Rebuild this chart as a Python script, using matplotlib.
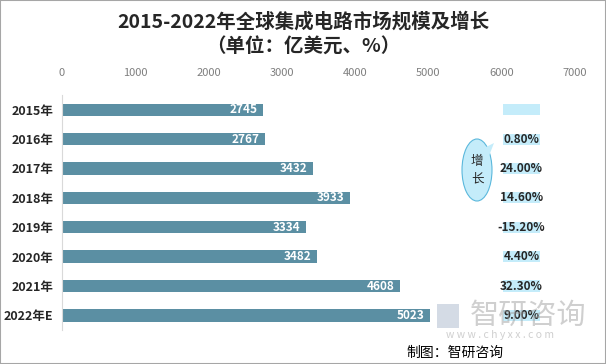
import matplotlib.pyplot as plt
from matplotlib.patches import Ellipse, Polygon, Rectangle

plt.rcParams['font.family'] = ['Noto Sans CJK SC', 'DejaVu Sans']

years = ['2015年', '2016年', '2017年', '2018年', '2019年', '2020年', '2021年', '2022年E']
scale = [2745, 2767, 3432, 3933, 3334, 3482, 4608, 5023]
growth = ['', '0.80%', '24.00%', '14.60%', '-15.20%', '4.40%', '32.30%', '9.00%']

fig = plt.figure(figsize=(6.06, 3.64), dpi=100)
ax = fig.add_axes([0.102, 0.093, 0.847, 0.646])

y = list(range(len(years)))
ax.barh(y, scale, height=0.42, color='#5b8fa3')
ax.barh(y, [500] * len(years), left=6020, height=0.38, color='#c4ecfa')

for i, v in enumerate(scale):
    ax.annotate(str(v), (v, i), xytext=(-4, 0), textcoords='offset points',
                ha='right', va='center', color='white', fontsize=8.5, fontweight='bold')
for i, g in enumerate(growth):
    ax.text(6270, i, g, ha='center', va='center', color='#262626', fontsize=8.5,
            fontweight='bold', zorder=9)

ax.set_xlim(0, 7000)
ax.set_ylim(7.5, -0.5)
ax.set_xticks(range(0, 7001, 1000))
ax.xaxis.tick_top()
ax.tick_params(axis='x', length=0, pad=12, labelsize=8, labelcolor='#7f7f7f')
ax.tick_params(axis='y', length=0, pad=6, labelsize=9)
ax.set_yticks(y)
ax.set_yticklabels(years, fontweight='bold', color='#262626')
for s in ['top', 'right', 'bottom']:
    ax.spines[s].set_visible(False)
ax.spines['left'].set_color('#d9d9d9')

fig.text(0.5, 1 - 22 / 364, '2015-2022年全球集成电路市场规模及增长', ha='center', va='center',
         fontsize=14, fontweight='bold', color='#262626')
fig.text(0.5, 1 - 47 / 364, '（单位：亿美元、%）', ha='center', va='center',
         fontsize=14, fontweight='bold', color='#262626')

# speech bubble
bubble = Ellipse((477 / 606, 1 - 170 / 364), 30 / 606, 62 / 364, transform=fig.transFigure,
                 facecolor='#c4ecfa', edgecolor='#5bb8dc', lw=0.8, zorder=5)
fig.patches.append(bubble)
tail = Polygon([(484 / 606, 1 - 148 / 364), (494 / 606, 1 - 143 / 364), (489 / 606, 1 - 156 / 364)],
               closed=True, transform=fig.transFigure, facecolor='#c4ecfa', edgecolor='none', zorder=6)
fig.patches.append(tail)
fig.text(477 / 606, 1 - 170 / 364, '增\n长', ha='center', va='center', fontsize=9,
         color='#262626', linespacing=1.4, zorder=7)

# watermark and source
fig.text(528 / 606, 1 - 316 / 364, '智研咨询', ha='center', va='center', fontsize=21,
         color='#a0a0a0', alpha=0.5, zorder=8)
fig.patches.append(Rectangle((437 / 606, 1 - 328 / 364), 22 / 606, 24 / 364,
                             transform=fig.transFigure, facecolor='#b8c4d4', alpha=0.6,
                             edgecolor='none'))
fig.text(500 / 606, 1 - 335 / 364, 'w w w . c h y x x . c o m', ha='center', va='center',
         fontsize=7.5, color='#a0a0a0', alpha=0.5, zorder=8)
fig.text(455 / 606, 1 - 353 / 364, '制图：智研咨询', ha='center', va='center', fontsize=10, color='black')

fig.patches.append(Rectangle((0, 0), 1, 1, transform=fig.transFigure, fill=False,
                             edgecolor='#a6a6a6', lw=1.5))

fig.savefig('out.png', dpi=100)
